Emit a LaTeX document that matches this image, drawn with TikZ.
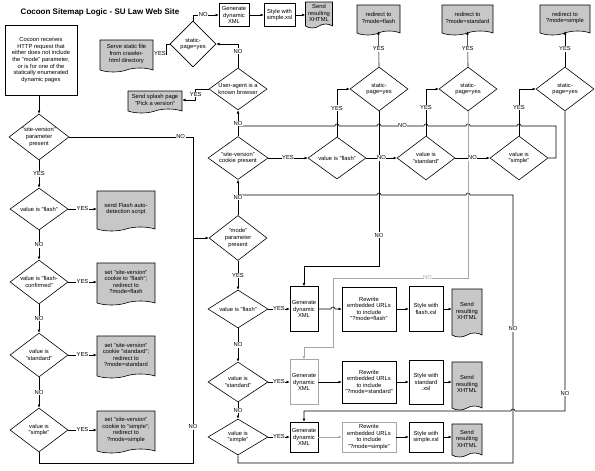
\documentclass[tikz,border=0pt]{standalone}
\usepackage{fontspec}
\setmainfont{Liberation Sans}
\usetikzlibrary{shapes.geometric,shapes.symbols,arrows.meta}
\newcommand{\flowfont}{\fontsize{5.8}{6.6}\selectfont}

\begin{document}
\begin{tikzpicture}[x=1pt,y=-1pt,line width=0.6pt,>={Latex[length=3.2pt,width=2.8pt]},
	box/.style={draw,rectangle,inner sep=1pt,align=center,font=\flowfont},
	dec/.style={draw,diamond,aspect=1.35,inner sep=0pt,align=center,font=\flowfont},
	doc/.style={draw,tape,tape bend top=none,tape bend height=4pt,fill=black!22,inner sep=1pt,align=center,font=\flowfont},
	lbl/.style={fill=white,inner sep=0.6pt,font=\flowfont},
	faint/.style={draw=black!35}]
	\useasboundingbox (0,0) rectangle (595,471);
	\node[font=\bfseries\fontsize{8}{9.5}\selectfont] (title) at (100,12) {Cocoon Sitemap Logic - SU Law Web Site};

	\node[box,minimum width=72,minimum height=70] (req) at (41,60) {Cocoon receives\\HTTP request that\\either does not include\\the "mode" parameter,\\or is for one of the\\statically enumerated\\dynamic pages};
	\node[dec,minimum width=60,minimum height=46] (lpar) at (39,137) {"site-version"\\parameter\\present};
	\node[dec,minimum width=58,minimum height=42] (lfla) at (39,209) {value is "flash"};
	\node[dec,minimum width=58,minimum height=44] (lcon) at (39,282) {value is "flash-\\confirmed"};
	\node[dec,minimum width=58,minimum height=44] (lstd) at (39,355) {value is\\"standard"};
	\node[dec,minimum width=58,minimum height=44] (lsim) at (39,430) {value is\\"simple"};
	\node[doc,minimum width=58,minimum height=40] (dauto) at (126,209) {send Flash auto-\\detection script};
	\node[doc,minimum width=58,minimum height=42] (dfla) at (126,282) {set "site-version"\\cookie to "flash";\\redirect to\\?mode=flash};
	\node[doc,minimum width=58,minimum height=42] (dstd) at (126,355) {set "site-version"\\cookie "standard";\\redirect to\\?mode=standard};
	\node[doc,minimum width=58,minimum height=42] (dsim) at (126,430) {set "site-version"\\cookie to "simple";\\redirect to\\?mode=simple};

	\node[dec,minimum width=46,minimum height=46] (st1) at (193,44) {static-\\page=yes};
	\node[box,minimum width=30,minimum height=23] (gtop) at (234,15) {Generate\\dynamic\\XML};
	\node[box,minimum width=31,minimum height=23] (stop) at (279.5,15) {Style with\\simple.xsl};
	\node[doc,minimum width=27,minimum height=26] (sendtop) at (319,13) {Send\\resulting\\XHTML};
	\node[doc,minimum width=53,minimum height=32] (dstatic) at (126.5,54) {Serve static file\\from crawler-\\html directory};
	\node[doc,minimum width=54,minimum height=22] (dsplash) at (155,100) {Send splash page\\"Pick a version"};
	\node[dec,minimum width=58,minimum height=42] (ua) at (238,89) {User-agent is a\\known browser};
	\node[dec,minimum width=60,minimum height=43] (cookie) at (238,158) {"site-version"\\cookie present};
	\node[dec,minimum width=58,minimum height=45] (mode) at (238,238) {"mode"\\parameter\\present};

	\node[dec,minimum width=58,minimum height=42] (vfla) at (337,158) {value is "flash"};
	\node[dec,minimum width=58,minimum height=44] (vstd) at (426,158) {value is\\"standard"};
	\node[dec,minimum width=58,minimum height=44] (vsim) at (519,158) {value is\\"simple"};
	\node[dec,minimum width=58,minimum height=44] (sfla) at (379,89) {static-\\page=yes};
	\node[dec,minimum width=58,minimum height=44] (sstd) at (468,89) {static-\\page=yes};
	\node[dec,minimum width=58,minimum height=44] (ssim) at (565,89) {static-\\page=yes};
	\node[doc,minimum width=43,minimum height=30] (rfla) at (378.5,18) {redirect to\\?mode=flash};
	\node[doc,minimum width=51,minimum height=30] (rstd) at (467.5,18) {redirect to\\?mode=standard};
	\node[doc,minimum width=50,minimum height=30] (rsim) at (565,18) {redirect to\\?mode=simple};

	\node[dec,minimum width=60,minimum height=38] (mfla) at (238,309) {value is "flash"};
	\node[dec,minimum width=60,minimum height=40] (mstd) at (238,382) {value is\\"standard"};
	\node[dec,minimum width=60,minimum height=36] (msim) at (238,437) {value is\\"simple"};
	\node[box,minimum width=28,minimum height=45] (gfla) at (304,309) {Generate\\dynamic\\XML};
	\node[box,faint,minimum width=28,minimum height=45] (gstd) at (304,382) {Generate\\dynamic\\XML};
	\node[box,minimum width=28,minimum height=30] (gsim) at (304,437) {Generate\\dynamic\\XML};
	\node[box,minimum width=54,minimum height=44] (wfla) at (369,309) {Rewrite\\embedded URLs\\to include\\"?mode=flash"};
	\node[box,minimum width=54,minimum height=42] (wstd) at (369,382) {Rewrite\\embedded URLs\\to include\\"?mode=standard"};
	\node[box,faint,minimum width=54,minimum height=30] (wsim) at (369,437) {Rewrite\\embedded URLs\\to include\\"?mode=simple"};
	\node[box,minimum width=34,minimum height=45] (sxfla) at (426,309) {Style with\\flash.xsl};
	\node[box,minimum width=34,minimum height=44] (sxstd) at (426,382) {Style with\\standard\\.xsl};
	\node[box,minimum width=34,minimum height=30] (sxsim) at (426,437) {Style with\\simple.xsl};
	\node[doc,minimum width=30,minimum height=48] (ofla) at (467,311) {Send\\resulting\\XHTML};
	\node[doc,minimum width=30,minimum height=48] (ostd) at (467,384) {Send\\resulting\\XHTML};
	\node[doc,minimum width=30,minimum height=33] (osim) at (467,438.5) {Send\\resulting\\XHTML};

	\draw (vsim.east) -- (556,158) -- (556,126) -- (521,126) arc[start angle=0,end angle=180,radius=2pt] -- (470,126) arc[start angle=0,end angle=180,radius=2pt] -- (428,126) arc[start angle=0,end angle=180,radius=2pt] -- node[lbl]{NO} (381,126) arc[start angle=0,end angle=180,radius=2pt] -- (339,126) arc[start angle=0,end angle=180,radius=2pt] -- (238,126);
	\draw (msim.south) |- (513,463) -- node[lbl]{NO} (513,195) -- (470,195) arc[start angle=0,end angle=180,radius=2pt] -- (381,195) arc[start angle=0,end angle=180,radius=2pt] -- (238,195);
	\draw[->] (sfla.south) -- node[lbl,pos=0.8]{NO} (379,266) -| (gfla.north);
	\draw[->,black!35] (sstd.south) -- (468,278) -- node[lbl,pos=0.3]{NO} (333,278) -- (333,347) -| (gstd.north);
	\draw[->] (ssim.south) -- node[lbl,pos=0.94]{NO} (565,411) -- (515,411) arc[start angle=0,end angle=180,radius=2pt] -| (gsim.north);

	\draw[->] (req.south -| lpar.north) -- (lpar.north);
	\foreach \a/\b/\t in {lpar/lfla/YES,lfla/lcon/NO,lcon/lstd/NO,lstd/lsim/NO}
		\draw[->] (\a.south) -- node[lbl]{\t} (\b.north);
	\foreach \a/\b in {lfla/dauto,lcon/dfla,lstd/dstd,lsim/dsim}
		\draw[->] (\a.east) -- node[lbl]{YES} (\a.east -| \b.west);
	\coordinate (jn) at (193,238);
	\draw (lpar.east) -- node[lbl,pos=0.9]{NO} (lpar.east -| jn) -- (jn);
	\draw (lsim.south) |- (193,463) -- node[lbl,pos=0.16]{NO} (jn);
	\draw[->] (jn) -- (mode.west);

	\draw[->] (st1.north) |- node[lbl,pos=0.7]{NO} (gtop.west);
	\draw[->] (gtop) -- (stop);
	\draw[->] (stop.east) -- (stop.east -| sendtop.west);
	\draw[->] (st1.west) -- ++(-3,0) |- node[lbl,pos=0.75]{YES} (dstatic.east);
	\draw[->] (ua.north) |- node[lbl,pos=0.35]{NO} (st1.east);
	\draw[->] (ua.west) -- ++(-13,0) |- node[lbl,pos=0.25]{YES} (dsplash.east);
	\draw[->] (cookie.north) -- node[lbl]{NO} (ua.south);
	\draw[->] (cookie.east) -- node[lbl]{YES} (vfla.west);
	\draw[->] (vfla.east) -- node[lbl]{NO} (vstd.west);
	\draw[->] (vstd.east) -- node[lbl]{NO} (vsim.west);
	\foreach \v/\s/\r in {vfla/sfla/rfla,vstd/sstd/rstd,vsim/ssim/rsim} {
		\draw[->] (\v.north) -- node[lbl,pos=0.6]{YES} (\v.north |- \s.west) -- (\s.west);
		\draw[->] (\s.north) -- node[lbl]{YES} (\r.south);
	}

	\draw[->] (mode.north) -- node[lbl]{NO} (cookie.south);
	\draw[->] (mode.south) -- node[lbl]{YES} (mfla.north);
	\draw[->] (mfla.south) -- node[lbl]{NO} (mstd.north);
	\draw[->] (mstd.south) -- node[lbl]{NO} (msim.north);
	\foreach \m/\g/\w/\s/\o in {mfla/gfla/wfla/sxfla/ofla,mstd/gstd/wstd/sxstd/ostd,msim/gsim/wsim/sxsim/osim} {
		\draw[->] (\m.east) -- node[lbl]{YES} (\m.east -| \g.west);
		\draw[->] (\w.east) -- (\w.east -| \s.west);
		\draw[->] (\s.east) -- (\s.east -| \o.west);
	}
	\draw[->] (gfla.east) -- (331,309) arc[start angle=180,end angle=0,radius=2pt] -- (gfla.east -| wfla.west);
	\draw[->] (gstd.east) -- (gstd.east -| wstd.west);
	\draw[->,black!35] (gsim.east) -- (gsim.east -| wsim.west);
\end{tikzpicture}
\end{document}
